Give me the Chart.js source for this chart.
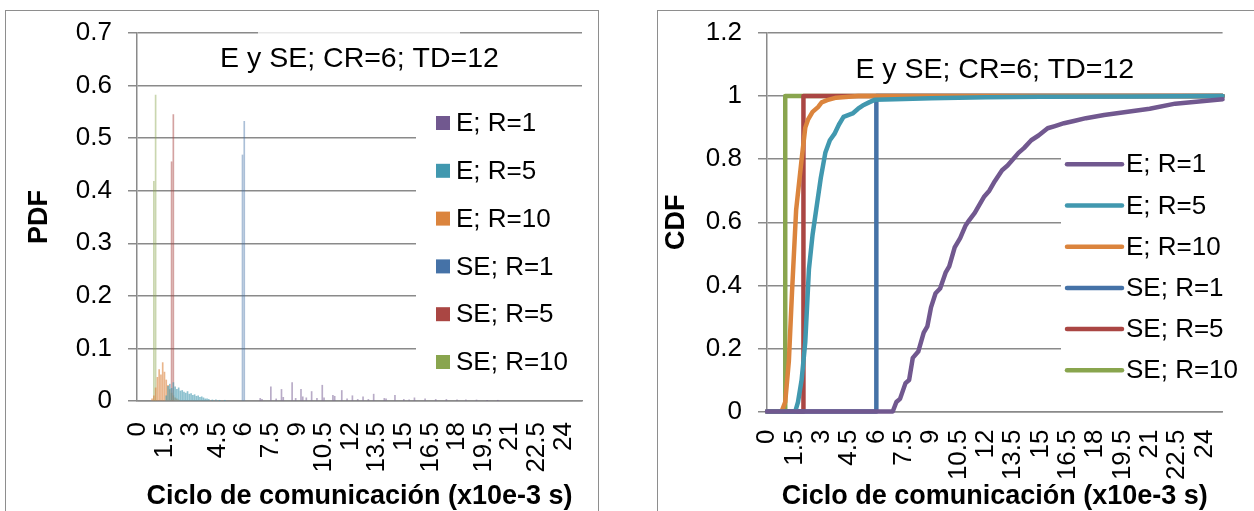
<!DOCTYPE html>
<html>
<head>
<meta charset="utf-8">
<script src="https://cdn.jsdelivr.net/npm/chart.js@4.4.1/dist/chart.umd.min.js"></script>
<style>
  html, body { margin: 0; padding: 0; background: #fff; width: 1254px; height: 511px; overflow: hidden; }
  .frame { position: absolute; border: 1.5px solid #8e8e8e; background: #fff; }
  #frameL { left: 5px; top: 10px; width: 592px; height: 540px; }
  #frameR { left: 657px; top: 10px; width: 640px; height: 540px; }
  .wrap { position: absolute; top: 0; width: 627px; height: 511px; }
  #wrapL { left: 0; }
  #wrapR { left: 627px; }
</style>
</head>
<body>
<div class="frame" id="frameL"></div>
<div class="frame" id="frameR"></div>
<div class="wrap" id="wrapL"><canvas id="pdfChart" width="627" height="511"></canvas></div>
<div class="wrap" id="wrapR"><canvas id="cdfChart" width="627" height="511"></canvas></div>
<script>
// ---- axis ticks ----
const xTicks = [0, 1.5, 3, 4.5, 6, 7.5, 9, 10.5, 12, 13.5, 15, 16.5, 18, 19.5, 21, 22.5, 24];
const pdfYTicks = [0, 0.1, 0.2, 0.3, 0.4, 0.5, 0.6, 0.7];
const cdfYTicks = [0, 0.2, 0.4, 0.6, 0.8, 1, 1.2];

// ---- series ----
const seriesLabels = ['E; R=1', 'E; R=5', 'E; R=10', 'SE; R=1', 'SE; R=5', 'SE; R=10'];
const chartTitle = 'E y SE; CR=6; TD=12';
const xTitle = 'Ciclo de comunicación (x10e-3 s)';

// PDF: communication cycle bin (x10e-3 s) and probability per bin
const pdfBinsE1 = [6.9, 7.0, 7.5, 7.8, 8.1, 8.2, 8.7, 8.9, 9.2, 9.3, 9.5, 9.8, 10.1, 10.4, 10.5, 11.0, 11.1, 11.5, 11.8,
                   12.1, 12.4, 12.7, 13.0, 13.3, 13.9, 14.0, 14.5, 15.0, 15.3, 15.6, 16.2, 16.8, 17.4, 18.0, 18.5, 19.1, 19.7, 20.3];
const pdfE1 = [0.005, 0.003, 0.027, 0.004, 0.022, 0.007, 0.035, 0.005, 0.022, 0.008, 0.006, 0.018, 0.005, 0.030, 0.006, 0.011, 0.009, 0.020, 0.004,
               0.010, 0.003, 0.008, 0.003, 0.013, 0.005, 0.004, 0.011, 0.003, 0.002, 0.006, 0.004, 0.003, 0.003, 0.002, 0.002, 0.002, 0.001, 0.001];

const pdfBinsE5 = [1.6, 1.7, 1.8, 1.9, 2.0, 2.1, 2.2, 2.3, 2.4, 2.5, 2.6, 2.7, 2.8, 2.9, 3.0, 3.1, 3.2, 3.3, 3.4, 3.5,
                   3.6, 3.7, 3.8, 3.9, 4.0, 4.2, 4.4, 4.6, 4.9];
const pdfE5 = [0.010, 0.028, 0.032, 0.024, 0.035, 0.027, 0.022, 0.025, 0.019, 0.020, 0.017, 0.015, 0.018, 0.013, 0.014, 0.011, 0.012, 0.009, 0.010, 0.007,
               0.008, 0.006, 0.004, 0.004, 0.003, 0.002, 0.002, 0.001, 0.001];

const pdfBinsE10 = [0.8, 0.9, 1.0, 1.1, 1.2, 1.3, 1.4, 1.5, 1.6, 1.7, 1.8, 1.9, 2.0, 2.1, 2.2, 2.3];
const pdfE10 = [0.004, 0.010, 0.025, 0.045, 0.060, 0.050, 0.073, 0.055, 0.040, 0.030, 0.022, 0.015, 0.010, 0.006, 0.004, 0.002];

const pdfBinsSE1 = [5.9, 6.0];
const pdfSE1 = [0.468, 0.532];
const pdfBinsSE5 = [1.9, 2.0];
const pdfSE5 = [0.455, 0.545];
const pdfBinsSE10 = [0.9, 1.0];
const pdfSE10 = [0.418, 0.582];

// CDF: communication cycle (x10e-3 s) and cumulative probability
const cdfXE1 = [0, 6.9, 7.1, 7.3, 7.6, 7.8, 8.0, 8.3, 8.6, 8.8, 9.0, 9.25, 9.5, 9.8, 10.0, 10.3, 10.6, 10.9, 11.1, 11.4,
                11.7, 11.9, 12.2, 12.5, 12.9, 13.2, 13.5, 13.8, 14.1, 14.5, 14.9, 15.4, 15.8, 16.3, 16.9, 17.5, 18.5, 19.8, 21.0, 22.4, 23.7, 25.0];
const cdfE1 = [0, 0, 0.03, 0.04, 0.09, 0.10, 0.17, 0.19, 0.25, 0.27, 0.33, 0.375, 0.39, 0.44, 0.46, 0.52, 0.55, 0.59, 0.607, 0.63,
               0.66, 0.68, 0.70, 0.73, 0.765, 0.78, 0.80, 0.82, 0.835, 0.86, 0.875, 0.898, 0.905, 0.914, 0.922, 0.93, 0.94, 0.95, 0.96, 0.976, 0.983, 0.99];

const cdfXE5 = [0, 1.55, 1.7, 1.9, 2.1, 2.3, 2.5, 2.7, 2.95, 3.2, 3.45, 3.7, 3.95, 4.2, 4.7, 5.0, 5.25, 5.6, 5.9, 7, 9, 12, 15, 20, 25];
const cdfE5 = [0, 0, 0.03, 0.10, 0.22, 0.45, 0.56, 0.64, 0.74, 0.82, 0.86, 0.88, 0.91, 0.934, 0.945, 0.96, 0.97, 0.98, 0.988, 0.99, 0.993, 0.996, 0.998, 0.999, 1];

const cdfXE10 = [0, 0.8, 1.0, 1.2, 1.37, 1.6, 1.75, 1.9, 2.1, 2.25, 2.5, 2.8, 3.0, 3.3, 3.8, 5, 25];
const cdfE10 = [0, 0, 0.03, 0.16, 0.375, 0.64, 0.72, 0.80, 0.90, 0.925, 0.95, 0.965, 0.98, 0.987, 0.995, 1, 1];

const cdfXSE1 = [0, 6, 6, 25];
const cdfSE1 = [0, 0, 1, 1];
const cdfXSE5 = [0, 2, 2, 25];
const cdfSE5 = [0, 0, 1, 1];
const cdfXSE10 = [0, 1, 1, 25];
const cdfSE10 = [0, 0, 1, 1];

// ---- styling ----
const seriesColors = ['#71588F', '#4198AF', '#DB843D', '#4572A7', '#AA4643', '#89A54E'];
const barColors = ['rgba(113,88,143,0.5)', 'rgba(65,152,175,0.6)', 'rgba(219,132,61,0.6)',
                   'rgba(69,114,167,0.45)', 'rgba(170,70,67,0.5)', 'rgba(137,165,78,0.45)'];
const GRID = '#8a8a8a';
const FONT = '"Liberation Sans", Arial, sans-serif';
Chart.defaults.font.family = FONT;
Chart.defaults.color = '#000';

const pts = (xs, ys) => xs.map((x, i) => ({ x: x, y: ys[i] }));
const fixedTicks = vals => scale => { scale.ticks = vals.map(v => ({ value: v })); };

// white panels behind the in-plot title and legend, then title + legend text
const insetDecor = {
  id: 'insetDecor',
  beforeDatasetsDraw(chart, args, o) {
    const ctx = chart.ctx;
    ctx.save();
    ctx.fillStyle = '#fff';
    (o.masks || []).forEach(m => {
      ctx.globalAlpha = m.alpha == null ? 1 : m.alpha;
      ctx.fillRect(m.x, m.y, m.w, m.h);
    });
    ctx.restore();
  },
  afterDatasetsDraw(chart, args, o) {
    const ctx = chart.ctx;
    const area = chart.chartArea;
    ctx.save();
    ctx.fillStyle = '#000';
    ctx.font = o.titleSize + 'px ' + FONT;
    ctx.textAlign = 'center';
    ctx.textBaseline = 'middle';
    ctx.fillText(o.title, (area.left + area.right) / 2, o.titleY);

    ctx.font = o.legendSize + 'px ' + FONT;
    ctx.textAlign = 'left';
    chart.data.datasets.forEach((ds, i) => {
      const y = o.legendY + i * o.legendDy;
      if (o.marker === 'box') {
        ctx.fillStyle = ds.legendColor;
        ctx.fillRect(o.markerX, y - 7, 14, 14);
      } else {
        ctx.strokeStyle = ds.borderColor;
        ctx.lineWidth = 4.5;
        ctx.lineCap = 'round';
        ctx.beginPath();
        ctx.moveTo(o.markerX, y);
        ctx.lineTo(o.markerX + o.markerW, y);
        ctx.stroke();
      }
      ctx.fillStyle = '#000';
      ctx.fillText(ds.label, o.textX, y + 1);
    });
    ctx.restore();
  }
};

function yScale(ticks, max, width, text, titlePad) {
  return {
    type: 'linear', min: 0, max: max, bounds: 'data',
    afterBuildTicks: fixedTicks(ticks),
    afterFit: s => { s.width = width; },
    grid: { color: GRID, lineWidth: 1.5, drawTicks: true, tickLength: 9, tickColor: GRID },
    border: { display: true, color: GRID, width: 1.5 },
    ticks: { color: '#000', font: { size: 26 }, padding: 16, callback: v => String(v) },
    title: { display: true, text: text, color: '#000', font: { size: 27, weight: 'bold', lineHeight: 1 },
             padding: { top: titlePad, bottom: 0 } }
  };
}

function xScale(min, max, height, pad) {
  return {
    type: 'linear', min: min, max: max, bounds: 'data', offset: false,
    afterBuildTicks: fixedTicks(xTicks),
    afterFit: s => { s.height = height; },
    grid: { display: false, drawTicks: false, offset: false },
    border: { display: true, color: GRID, width: 1.5 },
    ticks: { color: '#000', font: { size: 26 }, padding: pad, minRotation: 90, maxRotation: 90,
             autoSkip: false, callback: v => String(v) },
    title: { display: true, text: xTitle, color: '#000', font: { size: 27, weight: 'bold', lineHeight: 1 },
             padding: { top: 0, bottom: 1 } }
  };
}

// ---- PDF (bars) ----
const pdfBins = [pdfBinsE1, pdfBinsE5, pdfBinsE10, pdfBinsSE1, pdfBinsSE5, pdfBinsSE10];
const pdfVals = [pdfE1, pdfE5, pdfE10, pdfSE1, pdfSE5, pdfSE10];
new Chart(document.getElementById('pdfChart'), {
  type: 'bar',
  data: {
    datasets: seriesLabels.map((label, i) => ({
      label: label,
      data: pts(pdfBins[i], pdfVals[i]),
      backgroundColor: barColors[i],
      legendColor: seriesColors[i],
      borderWidth: 0,
      barThickness: 1,
      grouped: false
    }))
  },
  options: {
    responsive: false,
    animation: false,
    layout: { padding: { left: 0, top: 33, right: 45, bottom: 0 } },
    plugins: {
      legend: { display: false },
      tooltip: { enabled: false },
      insetDecor: {
        masks: [
          { x: 416, y: 92, w: 168, h: 300 },
          { x: 258, y: 28, w: 202, h: 10, alpha: 0.8 }
        ],
        title: chartTitle, titleSize: 28.5, titleY: 59,
        legendSize: 26, legendY: 123, legendDy: 47.8,
        marker: 'box', markerX: 436, textX: 456
      }
    },
    scales: {
      x: xScale(-0.05, 25.05, 110, 21),
      y: yScale(pdfYTicks, 0.7, 137, 'PDF', 26.5)
    }
  },
  plugins: [insetDecor]
});

// ---- CDF (lines) ----
const cdfXs = [cdfXE1, cdfXE5, cdfXE10, cdfXSE1, cdfXSE5, cdfXSE10];
const cdfYs = [cdfE1, cdfE5, cdfE10, cdfSE1, cdfSE5, cdfSE10];
new Chart(document.getElementById('cdfChart'), {
  type: 'line',
  data: {
    datasets: seriesLabels.map((label, i) => ({
      label: label,
      data: pts(cdfXs[i], cdfYs[i]),
      borderColor: seriesColors[i],
      backgroundColor: seriesColors[i],
      borderWidth: 4.5,
      pointRadius: 0,
      tension: 0,
      borderJoinStyle: 'round',
      borderCapStyle: 'round',
      clip: 8
    }))
  },
  options: {
    responsive: false,
    animation: false,
    layout: { padding: { left: 0, top: 33, right: 11, bottom: 0 } },
    plugins: {
      legend: { display: false },
      tooltip: { enabled: false },
      insetDecor: {
        masks: [ { x: 434, y: 140, w: 185, h: 262 } ],
        title: chartTitle, titleSize: 28.5, titleY: 70,
        legendSize: 26, legendY: 164.3, legendDy: 41.2,
        marker: 'line', markerX: 440, markerW: 55, textX: 499
      }
    },
    scales: {
      x: xScale(0, 25, 99.5, 18),
      y: yScale(cdfYTicks, 1.2, 140, 'CDF', 36.5)
    }
  },
  plugins: [insetDecor]
});
</script>
</body>
</html>
